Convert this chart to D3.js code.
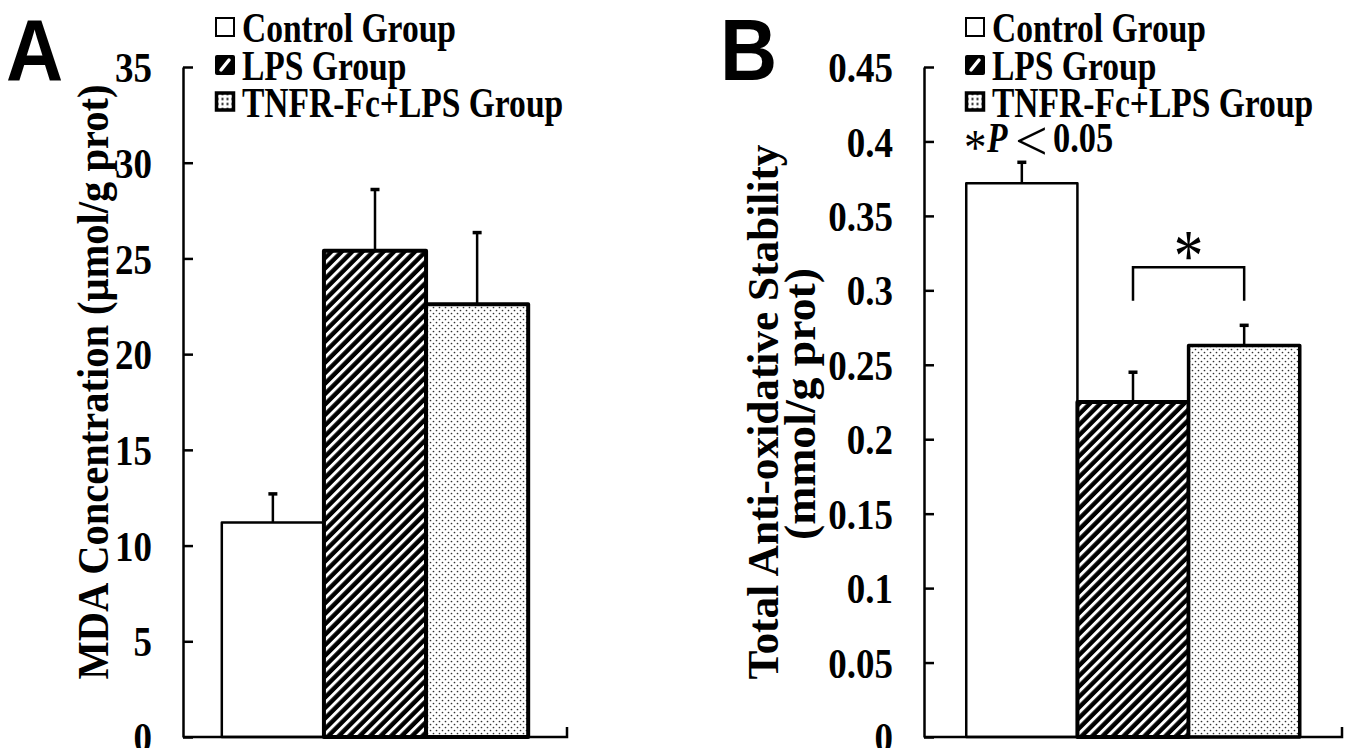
<!DOCTYPE html>
<html>
<head>
<meta charset="utf-8">
<script src="https://cdn.jsdelivr.net/npm/d3@7"></script>
<style>
  body { margin: 0; background: #fff; }
  text { font-family: "Liberation Serif", "Times New Roman", serif; font-weight: bold; fill: #000; }
</style>
</head>
<body>
<div id="container"></div>
<script>
let w = 1346;
let h = 748;

// DATA
let groups = ["Control Group", "LPS Group", "TNFR-Fc+LPS Group"];

let mdaMean = [11.2, 25.4, 22.6];
let mdaErr = [1.5, 3.2, 3.75];
let mdaTicks = [0, 5, 10, 15, 20, 25, 30, 35];

let taosMean = [0.372, 0.225, 0.263];
let taosErr = [0.014, 0.02, 0.0135];
let taosTicks = [0, 0.05, 0.1, 0.15, 0.2, 0.25, 0.3, 0.35, 0.4, 0.45];

// significance bracket in panel B: between group 1 and 2
let sigPair = [1, 2];
let sigLevels = [0.293, 0.3155]; // leg bottom, bracket top
let sigLabel = "*";

let viz = d3.select("#container").append("svg")
    .attr("width", w)
    .attr("height", h)
    .style("background-color", "white");

// patterns
let defs = viz.append("defs");
let stripes = defs.append("pattern")
    .attr("id", "stripes")
    .attr("patternUnits", "userSpaceOnUse")
    .attr("width", 7.4)
    .attr("height", 7.4)
    .attr("patternTransform", "rotate(45)");
stripes.append("rect").attr("width", 7.4).attr("height", 7.4).attr("fill", "black");
stripes.append("rect").attr("width", 3).attr("height", 7.4).attr("fill", "white");

let dots = defs.append("pattern")
    .attr("id", "dots")
    .attr("patternUnits", "userSpaceOnUse")
    .attr("width", 6)
    .attr("height", 6);
dots.append("rect").attr("width", 6).attr("height", 6).attr("fill", "white");
dots.append("circle").attr("cx", 1.5).attr("cy", 1.5).attr("r", 0.85).attr("fill", "#333");
dots.append("circle").attr("cx", 4.5).attr("cy", 4.5).attr("r", 0.85).attr("fill", "#333");

let legDots = defs.append("pattern")
    .attr("id", "legdots")
    .attr("patternUnits", "userSpaceOnUse")
    .attr("width", 5)
    .attr("height", 5);
legDots.append("rect").attr("width", 5).attr("height", 5).attr("fill", "white");
legDots.append("rect").attr("x", 1.5).attr("y", 1.5).attr("width", 2).attr("height", 2).attr("fill", "black");

let fills = ["white", "url(#stripes)", "url(#dots)"];

let panels = [
  {letter: "A", lx: 6, x0: 183, x1: 567, means: mdaMean, errs: mdaErr, ticks: mdaTicks,
   titles: [{text: "MDA Concentration (\u03bcmol/g prot)", x: 108, y: 382, len: 595}],
   legX: 215, strokes: [2.5, 4, 4], sig: false},
  {letter: "B", lx: 720, x0: 924, x1: 1342, means: taosMean, errs: taosErr, ticks: taosTicks,
   titles: [{text: "Total Anti-oxidative Stability", x: 778, y: 412, len: 535},
            {text: "(mmol/g prot)", x: 815, y: 404, len: 272}],
   legX: 965, strokes: [2.5, 4, 3.5], sig: true}
];

let yTop = 67;
let yBottom = 737;

// text that is squeezed sideways like the original
function label(parent, x, y, str, size, sx, anchor){
  return parent.append("text")
    .attr("transform", "translate(" + x + "," + y + ") scale(" + sx + ",1)")
    .attr("text-anchor", anchor || "start")
    .style("font-size", size + "px")
    .text(str);
}

panels.forEach(function(p){
  let g = viz.append("g").attr("class", "panel" + p.letter);

  let yScale = d3.scaleLinear()
    .domain([0, p.ticks[p.ticks.length - 1]])
    .range([yBottom, yTop]);

  let xScale = d3.scaleBand()
    .domain(groups)
    .range([p.x0, p.x1])
    .paddingInner(0)
    .paddingOuter(0.38);

  // bars
  g.selectAll(".bar").data(groups).enter()
    .append("rect")
    .attr("class", "bar")
    .attr("x", function(d){ return xScale(d); })
    .attr("width", xScale.bandwidth())
    .attr("y", function(d, i){ return yScale(p.means[i]); })
    .attr("height", function(d, i){ return yBottom - yScale(p.means[i]); })
    .attr("fill", function(d, i){ return fills[i]; })
    .attr("stroke", "black")
    .attr("stroke-width", function(d, i){ return p.strokes[i]; })
    .attr("stroke-linejoin", "round");

  // error bars (upper only)
  let errG = g.selectAll(".err").data(groups).enter()
    .append("g").attr("class", "err");
  errG.append("line")
    .attr("x1", function(d){ return xScale(d) + xScale.bandwidth() / 2; })
    .attr("x2", function(d){ return xScale(d) + xScale.bandwidth() / 2; })
    .attr("y1", function(d, i){ return yScale(p.means[i]); })
    .attr("y2", function(d, i){ return yScale(p.means[i] + p.errs[i]); })
    .attr("stroke", "black")
    .attr("stroke-width", 2.5);
  errG.append("line")
    .attr("x1", function(d){ return xScale(d) + xScale.bandwidth() / 2 - 4.5; })
    .attr("x2", function(d){ return xScale(d) + xScale.bandwidth() / 2 + 4.5; })
    .attr("y1", function(d, i){ return yScale(p.means[i] + p.errs[i]); })
    .attr("y2", function(d, i){ return yScale(p.means[i] + p.errs[i]); })
    .attr("stroke", "black")
    .attr("stroke-width", 3.5);

  // y axis, ticks pointing inward
  let yAxis = d3.axisLeft(yScale)
    .tickValues(p.ticks)
    .tickFormat(String)
    .tickSizeInner(-10)
    .tickSizeOuter(0);
  let ag = g.append("g")
    .attr("transform", "translate(" + p.x0 + ",0)")
    .call(yAxis);
  ag.select(".domain").attr("stroke", "black").attr("stroke-width", 2.5);
  ag.selectAll(".tick line").attr("stroke", "black").attr("stroke-width", 2.5);
  ag.selectAll(".tick text")
    .attr("x", null)
    .attr("dy", "0.34em")
    .attr("transform", "translate(-31,0) scale(0.86,1)")
    .attr("fill", "black")
    .style("font-family", "'Liberation Serif', serif")
    .style("font-weight", "bold")
    .style("font-size", "43px");

  // x axis with closing tick at the right end
  g.append("path")
    .attr("d", "M" + p.x0 + "," + yBottom + "H" + p.x1 + "V" + (yBottom - 10))
    .attr("fill", "none")
    .attr("stroke", "black")
    .attr("stroke-width", 2.5);

  // axis titles
  p.titles.forEach(function(t){
    g.append("text")
      .attr("transform", "translate(" + t.x + "," + t.y + ") rotate(-90)")
      .attr("text-anchor", "middle")
      .attr("textLength", t.len)
      .attr("lengthAdjust", "spacingAndGlyphs")
      .style("font-size", "45px")
      .text(t.text);
  });

  // panel letter
  g.append("text")
    .attr("transform", "translate(" + p.lx + ",80) scale(0.9,1)")
    .style("font-family", "'Liberation Sans', Arial, sans-serif")
    .style("font-size", "88px")
    .text(p.letter);

  // legend
  let rows = [27, 65, 101.5];
  let leg = g.append("g").attr("class", "legend");
  groups.forEach(function(name, i){
    let sq = leg.append("g").attr("transform", "translate(" + p.legX + "," + (rows[i] - 10) + ")");
    if (i == 0){
      sq.append("rect").attr("x", 1).attr("y", 1).attr("width", 18).attr("height", 18)
        .attr("fill", "white").attr("stroke", "black").attr("stroke-width", 2);
    } else if (i == 1){
      sq.append("rect").attr("width", 20).attr("height", 20).attr("rx", 2).attr("fill", "black");
      sq.append("line").attr("x1", 6).attr("y1", 15).attr("x2", 14).attr("y2", 5)
        .attr("stroke", "white").attr("stroke-width", 3.5).attr("stroke-linecap", "round");
    } else {
      sq.append("rect").attr("x", 1.5).attr("y", 1.5).attr("width", 17).attr("height", 17)
        .attr("fill", "url(#legdots)").attr("stroke", "black").attr("stroke-width", 3.5);
    }
    label(leg, p.legX + 27, rows[i] + 15, name, 43, 0.78);
  });

  if (p.sig){
    // P value note under the legend
    label(leg, p.legX - 1, 164, "*", 50, 0.9).style("font-weight", "normal");
    label(leg, p.legX + 22, 152, "P", 43, 0.78).style("font-style", "italic");
    label(leg, p.legX + 50, 160, "<", 58, 1.0).style("font-weight", "normal");
    label(leg, p.legX + 88, 152, "0.05", 43, 0.8);

    // bracket between the two groups
    let xa = xScale(groups[sigPair[0]]) + xScale.bandwidth() / 2;
    let xb = xScale(groups[sigPair[1]]) + xScale.bandwidth() / 2;
    g.append("path")
      .attr("d", "M" + xa + "," + yScale(sigLevels[0]) + "V" + yScale(sigLevels[1]) +
                 "H" + xb + "V" + yScale(sigLevels[0]))
      .attr("fill", "none")
      .attr("stroke", "black")
      .attr("stroke-width", 2.5);
    label(g, (xa + xb) / 2, yScale(sigLevels[1]) + 14, sigLabel, 74, 0.8, "middle")
      .style("font-weight", "normal");
  }
});
</script>
</body>
</html>
